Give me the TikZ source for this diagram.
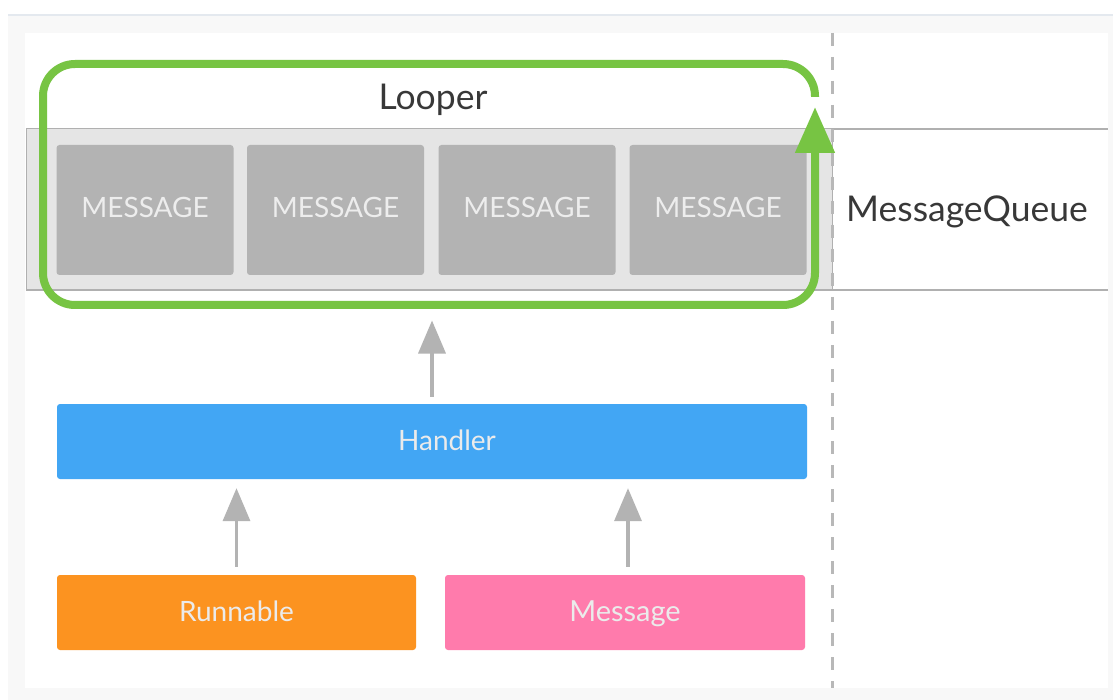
\documentclass[tikz,border=0pt]{standalone}
\usepackage{fontspec}
\setmainfont{Lato}
\usetikzlibrary{arrows.meta}
\definecolor{pagebg}{HTML}{F8F8F8}
\definecolor{topline}{HTML}{E4E9EF}
\definecolor{bandfill}{HTML}{E5E5E5}
\definecolor{bandline}{HTML}{B0B0B0}
\definecolor{msgfill}{HTML}{B3B3B3}
\definecolor{msgtext}{HTML}{EDEDED}
\definecolor{handlerfill}{HTML}{42A6F4}
\definecolor{runfill}{HTML}{FC9320}
\definecolor{mesfill}{HTML}{FF7BAC}
\definecolor{loopgreen}{HTML}{77C443}
\definecolor{arrowgray}{HTML}{B3B3B3}
\definecolor{dashgray}{HTML}{B8B8B8}
\definecolor{labeltext}{HTML}{383838}
\tikzset{
  msgbox/.style={fill=msgfill, rounded corners=3pt, minimum width=177pt, minimum height=130pt,
    inner sep=0pt, text=msgtext, font=\fontsize{28}{28}\selectfont,
    text height=16pt, text depth=0pt},
  colbox/.style={rounded corners=3pt, minimum height=75pt, inner sep=0pt,
    text=white!92!black, font=\fontsize{28}{28}\selectfont,
    text height=18pt, text depth=0pt},
  grayarrow/.style={draw=arrowgray, line width=3.5pt,
    -{Triangle[width=27pt,length=33pt]}},
  biglabel/.style={text=labeltext, inner sep=0pt, anchor=base, font=\fontsize{35.5}{35.5}\selectfont},
}
\begin{document}
\begin{tikzpicture}[x=1pt,y=-1pt]
\useasboundingbox (0,0) rectangle (1113,700);
\fill[white] (0,0) rectangle (1113,700);
\fill[pagebg] (8,15) rectangle (1113,700);
\draw[topline, line width=1.5pt] (8,15) -- (1113,15);
\fill[white] (25,33) rectangle (1108,688);
% message queue band
\draw[bandline, line width=1.5pt] (26,129) -- (1108,129);
\draw[bandline, line width=1.5pt] (26,290) -- (1108,290);
\node[fill=bandfill, draw=bandline, line width=1pt, minimum width=806pt, minimum height=161pt, inner sep=0pt] (q) at (429,209.5) {};
% dashed separator
\coordinate (dtop) at (832,33);
\coordinate (dbot) at (832,688);
\draw[dashgray, line width=3pt, dash pattern=on 13pt off 11pt] (dtop) -- (dbot);
% messages
\node[msgbox] (m1) at (145,210) {MESSAGE};
\node[msgbox] (m2) at (335.5,210) {MESSAGE};
\node[msgbox] (m3) at (527,210) {MESSAGE};
\node[msgbox] (m4) at (718,210) {MESSAGE};
% labels
\node[biglabel] (looper) at (433,110) {Looper};
\node[biglabel] (mq) at (967,222) {MessageQueue};
% looper loop
\coordinate (ls) at (815,97);
\coordinate (le) at (815,107);
\draw[loopgreen, line width=8pt, rounded corners=32pt, -{Triangle[width=38pt,length=46pt]}]
  (ls) -- (815,64) -- (43,64) -- (43,305) -- (815,305) -- (le);
% handler and sources
\node[colbox, fill=handlerfill, minimum width=750pt] (h) at (432,441.5) {\hspace*{30pt}Handler};
\node[colbox, fill=runfill, minimum width=359pt] (r) at (236.5,612.5) {Runnable};
\node[colbox, fill=mesfill, minimum width=360pt, font=\fontsize{29}{29}\selectfont] (m) at (625,612.5) {Message};
% arrows
\draw[grayarrow, shorten <=7pt, shorten >=30pt] (h.north) -- (h.north |- q.south);
\draw[grayarrow, shorten <=8pt, shorten >=9pt] (r.north) -- (r.north |- h.south);
\draw[grayarrow, shorten <=8pt, shorten >=9pt] ([xshift=3pt]m.north) -- ([xshift=3pt]m.north |- h.south);
\end{tikzpicture}
\end{document}
